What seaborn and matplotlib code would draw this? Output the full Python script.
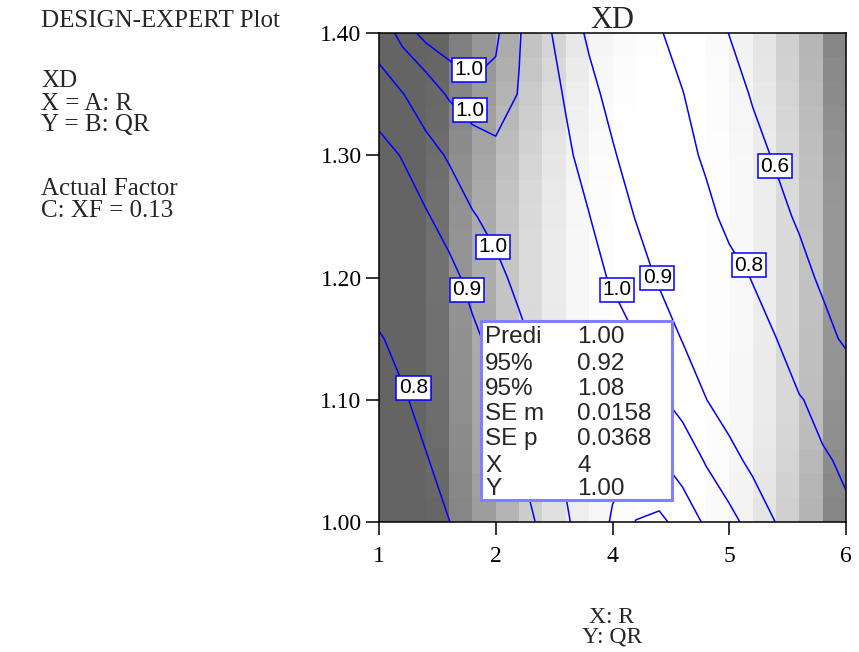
import matplotlib
matplotlib.use("Agg")
import matplotlib.pyplot as plt
from matplotlib.patches import Rectangle
import numpy as np
import seaborn as sns

# XD surface: columns = A: R, rows = B: QR (bottom row first)
r_grid = [1.00, 1.25, 1.50, 1.75, 2.00, 2.25, 2.50, 2.75, 3.00, 3.25, 3.50,
          3.75, 4.00, 4.25, 4.50, 4.75, 5.00, 5.25, 5.50, 5.75, 6.00]
qr_grid = [1.00, 1.05, 1.10, 1.15, 1.20, 1.25, 1.30, 1.35, 1.40]
xd_grid = [
    [0.730, 0.750, 0.773, 0.799, 0.827, 0.853, 0.880, 0.909, 0.944, 0.975, 1.004,
     1.031, 1.036, 1.020, 0.995, 0.965, 0.932, 0.899, 0.870, 0.843, 0.815],
    [0.750, 0.772, 0.796, 0.822, 0.848, 0.874, 0.899, 0.930, 0.958, 0.976, 0.990,
     1.002, 1.003, 0.985, 0.946, 0.916, 0.889, 0.863, 0.837, 0.811, 0.786],
    [0.770, 0.793, 0.819, 0.844, 0.869, 0.894, 0.922, 0.949, 0.968, 0.980, 0.988,
     0.980, 0.958, 0.930, 0.901, 0.877, 0.854, 0.830, 0.807, 0.770, 0.720],
    [0.795, 0.818, 0.842, 0.866, 0.890, 0.915, 0.941, 0.962, 0.978, 0.985, 0.975,
     0.951, 0.924, 0.898, 0.874, 0.850, 0.826, 0.802, 0.728, 0.650, 0.575],
    [0.835, 0.848, 0.862, 0.885, 0.915, 0.940, 0.960, 0.975, 0.980, 0.968, 0.944,
     0.920, 0.895, 0.871, 0.847, 0.823, 0.797, 0.722, 0.648, 0.575, 0.530],
    [0.855, 0.870, 0.895, 0.921, 0.947, 0.962, 0.975, 0.980, 0.972, 0.951, 0.924,
     0.898, 0.872, 0.845, 0.819, 0.781, 0.711, 0.642, 0.580, 0.540, 0.500],
    [0.880, 0.903, 0.932, 0.955, 0.975, 0.990, 0.985, 0.972, 0.958, 0.933, 0.905,
     0.877, 0.850, 0.823, 0.789, 0.717, 0.646, 0.585, 0.540, 0.500, 0.460],
    [0.930, 0.948, 0.977, 1.005, 1.025, 1.022, 0.998, 0.973, 0.946, 0.914, 0.885,
     0.858, 0.831, 0.804, 0.737, 0.663, 0.588, 0.540, 0.500, 0.460, 0.420],
    [0.970, 1.015, 1.040, 1.050, 1.045, 1.035, 1.003, 0.965, 0.927, 0.892, 0.865,
     0.837, 0.810, 0.751, 0.674, 0.597, 0.550, 0.500, 0.460, 0.420, 0.380],
]

contour_levels = [0.6, 0.8, 0.9, 0.95, 1.0, 1.03]
contour_text = ["0.6", "0.8", "0.9", "1.0", "1.0", "1.0"]
label_r = [1.96, 1.97, 2.22, 1.94, 1.37, 3.55, 3.98, 4.96, 5.24, 3.95]
label_qr = [1.370, 1.337, 1.225, 1.190, 1.110, 1.190, 1.200, 1.210, 1.291, 1.052]

# grey level of the 20 x 20 background cells, top row first
shade = [
    [100, 100, 100, 128, 150, 172, 195, 212, 232, 245, 250, 253, 255, 255, 250, 242, 228, 208, 182, 135],
    [100, 100, 102, 130, 152, 175, 198, 215, 235, 247, 252, 254, 255, 255, 251, 243, 230, 210, 184, 138],
    [100, 100, 104, 133, 156, 180, 202, 220, 238, 248, 253, 255, 255, 255, 252, 245, 232, 212, 186, 140],
    [100, 100, 106, 136, 160, 184, 206, 224, 240, 249, 254, 255, 255, 255, 252, 246, 234, 214, 188, 143],
    [100, 100, 108, 140, 164, 188, 210, 228, 242, 250, 255, 255, 255, 255, 253, 247, 235, 216, 190, 146],
    [100, 100, 110, 143, 167, 192, 214, 231, 244, 251, 255, 255, 255, 255, 253, 248, 236, 217, 192, 148],
    [100, 100, 112, 145, 170, 195, 217, 233, 246, 252, 255, 255, 255, 255, 253, 248, 237, 218, 193, 150],
    [100, 100, 112, 146, 171, 196, 218, 234, 246, 252, 255, 255, 255, 255, 253, 248, 237, 218, 193, 151],
    [100, 100, 113, 147, 172, 197, 219, 235, 247, 253, 255, 255, 255, 255, 253, 248, 237, 218, 194, 151],
    [100, 100, 113, 147, 172, 197, 219, 235, 247, 253, 255, 255, 255, 255, 253, 248, 237, 218, 194, 151],
    [100, 100, 113, 147, 172, 197, 219, 235, 247, 253, 255, 255, 255, 255, 253, 248, 237, 218, 193, 150],
    [100, 100, 112, 146, 171, 196, 218, 234, 246, 252, 255, 255, 255, 255, 253, 248, 237, 218, 193, 150],
    [100, 100, 112, 145, 170, 195, 217, 233, 246, 252, 255, 255, 255, 255, 253, 248, 236, 217, 192, 149],
    [100, 100, 111, 144, 169, 194, 216, 232, 245, 251, 255, 255, 255, 255, 253, 247, 236, 216, 191, 148],
    [100, 100, 110, 143, 168, 193, 215, 232, 245, 251, 255, 255, 255, 255, 253, 247, 235, 216, 190, 147],
    [100, 100, 109, 142, 167, 191, 214, 231, 244, 251, 255, 255, 255, 255, 252, 247, 235, 215, 189, 145],
    [100, 100, 108, 140, 165, 190, 212, 230, 243, 250, 254, 255, 255, 255, 252, 246, 234, 214, 188, 143],
    [100, 100, 106, 138, 163, 187, 210, 228, 241, 249, 254, 255, 255, 255, 252, 245, 232, 212, 185, 140],
    [100, 100, 104, 136, 160, 184, 207, 226, 240, 248, 253, 255, 255, 255, 251, 244, 230, 210, 182, 137],
    [100, 100, 102, 134, 158, 180, 205, 224, 238, 247, 252, 255, 255, 255, 250, 243, 228, 207, 180, 134],
]

r_ticks = [1, 2.25, 3.5, 4.75, 6]
r_tick_text = ["1", "2", "4", "5", "6"]
qr_ticks = [1.00, 1.10, 1.20, 1.30, 1.40]
qr_tick_text = ["1.00", "1.10", "1.20", "1.30", "1.40"]

info_lines = ["DESIGN-EXPERT Plot", "XD", "X = A: R", "Y = B: QR",
              "Actual Factor", "C: XF = 0.13"]
axis_names = ["X: R", "Y: QR"]
pred_names = ["Predi", "95%", "95%", "SE m", "SE p", "X", "Y"]
pred_values = ["1.00", "0.92", "1.08", "0.0158", "0.0368", "4", "1.00"]

sns.set_style("ticks")
plt.rcParams["font.family"] = ["Liberation Serif", "DejaVu Serif"]
SANS = ["Liberation Sans", "DejaVu Sans"]
BLUE = "#0000ff"

W, H = 859, 652
fig = plt.figure(figsize=(W / 100, H / 100), dpi=100)
rect = [379 / W, 130 / H, 467 / W, 489 / H]

# background grey cells
ax_bg = fig.add_axes(rect)
sns.heatmap(np.array(shade), cmap="gray", vmin=0, vmax=255, cbar=False,
            xticklabels=False, yticklabels=False, linewidths=0, ax=ax_bg)
ax_bg.set_axis_off()

# contours on a transparent axes on top
ax = fig.add_axes(rect)
ax.set_facecolor("none")
cs = ax.contour(r_grid, qr_grid, np.array(xd_grid), levels=contour_levels,
                colors=BLUE, linewidths=1.1)
labels = ax.clabel(cs, inline=False, fontsize=15,
                   fmt=dict(zip(contour_levels, contour_text)),
                   manual=list(zip(label_r, label_qr)))
for t, x, y in zip(labels, label_r, label_qr):
    t.set_position((x, y))
    t.set_rotation(0)
    t.set_family(SANS)
    t.set_color("black")
    t.set_bbox(dict(boxstyle="square,pad=0.12", fc="white", ec=BLUE, lw=1.1))

ax.set_xlim(1, 6)
ax.set_ylim(1.0, 1.4)
ax.set_xticks(r_ticks, r_tick_text)
ax.set_yticks(qr_ticks, qr_tick_text)
ax.tick_params(direction="out", length=9.5, width=1.1, color="black",
               labelsize=17, labelcolor="black")
ax.tick_params(axis="x", pad=8)
ax.tick_params(axis="y", pad=3)
for s in ax.spines.values():
    s.set_color("black")
    s.set_linewidth(1.1)

# point prediction box
box = Rectangle((0.2184, 0.045), 0.409, 0.366, transform=ax.transAxes,
                fc="white", ec="#8080ff", lw=2.2, zorder=10)
ax.add_patch(box)
row_y = [0.366, 0.311, 0.260, 0.209, 0.157, 0.102, 0.055]
for name, val, y in zip(pred_names, pred_values, row_y):
    for txt, x in ((name, 0.227), (val, 0.424)):
        t = ax.text(x, y, txt, transform=ax.transAxes, fontsize=17.5,
                    family=SANS, va="baseline", zorder=11)
        t.set_clip_path(box)

fig.text(612 / W, 1 - 28 / H, "XD", ha="center", va="baseline", fontsize=22)
for line, base in zip(info_lines, [27, 87, 110, 131, 195, 217]):
    fig.text(41 / W, 1 - base / H, line, va="baseline", fontsize=18)
fig.text(612 / W, 1 - 642 / H, "\n".join(axis_names), ha="center",
         va="baseline", fontsize=17, linespacing=0.85, multialignment="center")

fig.savefig("out.png", dpi=100)
